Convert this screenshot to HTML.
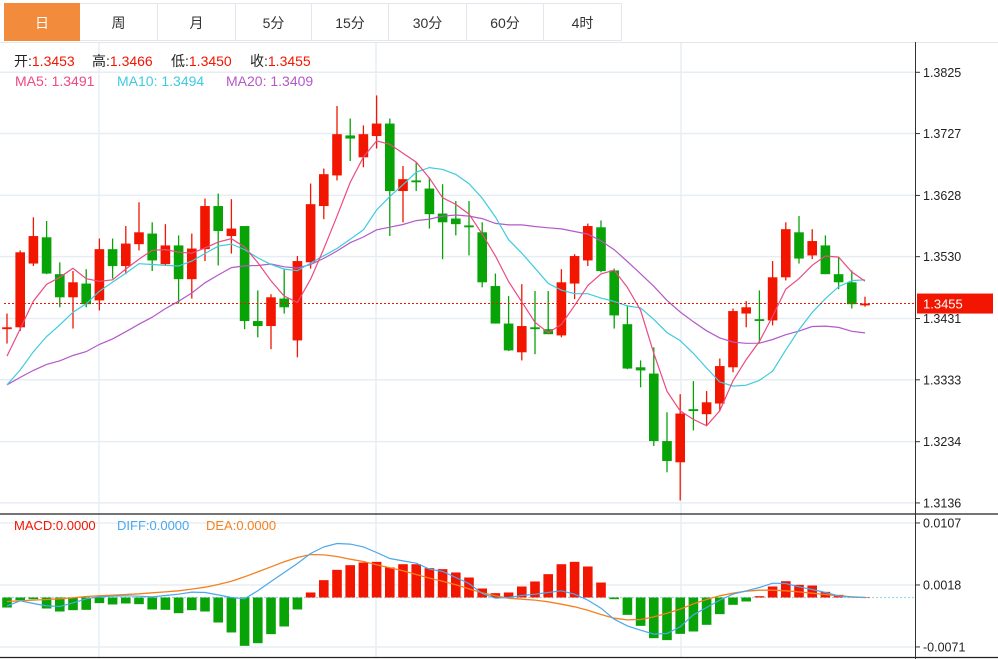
<!DOCTYPE html>
<html><head><meta charset="utf-8">
<style>
html,body{margin:0;padding:0;background:#fff;}
body{width:998px;height:659px;overflow:hidden;position:relative;font-family:"Liberation Sans","Noto Sans CJK SC",sans-serif;}
.tabs{position:absolute;left:4px;top:3px;height:39px;display:flex;}
.tab{height:38px;line-height:38px;text-align:center;font-size:14px;color:#333;border:1px solid #e3e6ea;border-left:none;box-sizing:border-box;}
.tab.first{border-left:1px solid #e3e6ea;}
.tab.on{background:#f28c3c;color:#fff;border-color:#f28c3c;}
svg{position:absolute;left:0;top:0;}
</style></head><body>
<div class="tabs">
<div class="tab first on" style="width:76px">日</div>
<div class="tab" style="width:78px">周</div>
<div class="tab" style="width:78px">月</div>
<div class="tab" style="width:76px">5分</div>
<div class="tab" style="width:77px">15分</div>
<div class="tab" style="width:78px">30分</div>
<div class="tab" style="width:77px">60分</div>
<div class="tab" style="width:78px">4时</div>
</div>
<svg id="chart" width="998" height="659"></svg>
<script>
// ---- data ----
const opens=[1.3414,1.3417,1.3519,1.3561,1.3502,1.3465,1.3487,1.3460,1.3542,1.3515,1.3550,1.3567,1.3518,1.3548,1.3494,1.3542,1.3611,1.3563,1.3579,1.3427,1.3419,1.3463,1.3396,1.3521,1.3611,1.3660,1.3724,1.3689,1.3723,1.3743,1.3635,1.3652,1.3639,1.3599,1.3591,1.3580,1.3569,1.3483,1.3423,1.3377,1.3417,1.3414,1.3404,1.3487,1.3524,1.3577,1.3508,1.3422,1.3353,1.3343,1.3235,1.3201,1.3286,1.3278,1.3295,1.3353,1.3439,1.3430,1.3428,1.3497,1.3569,1.3532,1.3548,1.3502,1.3489,1.3453];
const highs=[1.3439,1.3540,1.3593,1.3587,1.3521,1.3507,1.3510,1.3559,1.3559,1.3579,1.3617,1.3585,1.3582,1.3564,1.3567,1.3623,1.3631,1.3622,1.3579,1.3476,1.3470,1.3511,1.3531,1.3647,1.3671,1.3771,1.3751,1.3740,1.3788,1.3751,1.3675,1.3681,1.3657,1.3646,1.3619,1.3619,1.3585,1.3503,1.3467,1.3486,1.3475,1.3475,1.3510,1.3534,1.3583,1.3588,1.3511,1.3452,1.3364,1.3385,1.3281,1.3310,1.3331,1.3315,1.3367,1.3447,1.3459,1.3476,1.3523,1.3585,1.3595,1.3574,1.3564,1.3529,1.3508,1.3466];
const lows=[1.3391,1.3411,1.3515,1.3502,1.3449,1.3415,1.3449,1.3444,1.3495,1.3502,1.3540,1.3507,1.3515,1.3455,1.3463,1.3523,1.3516,1.3535,1.3414,1.3401,1.3382,1.3439,1.3369,1.3511,1.3590,1.3652,1.3683,1.3673,1.3703,1.3563,1.3585,1.3635,1.3575,1.3526,1.3564,1.3532,1.3481,1.3423,1.3379,1.3364,1.3374,1.3406,1.3401,1.3462,1.3515,1.3505,1.3415,1.3350,1.3321,1.3227,1.3185,1.3140,1.3252,1.3260,1.3283,1.3345,1.3417,1.3391,1.3420,1.3492,1.3519,1.3526,1.3502,1.3478,1.3447,1.3450];
const closes=[1.3417,1.3537,1.3563,1.3503,1.3465,1.3489,1.3454,1.3542,1.3515,1.3551,1.3569,1.3524,1.3548,1.3494,1.3543,1.3611,1.3571,1.3575,1.3427,1.3419,1.3465,1.3449,1.3523,1.3614,1.3662,1.3726,1.3719,1.3726,1.3743,1.3635,1.3654,1.3649,1.3598,1.3585,1.3582,1.3577,1.3489,1.3423,1.3380,1.3419,1.3414,1.3406,1.3489,1.3531,1.3579,1.3507,1.3436,1.3351,1.3348,1.3235,1.3203,1.3279,1.3283,1.3297,1.3355,1.3443,1.3449,1.3428,1.3497,1.3574,1.3527,1.3555,1.3502,1.3489,1.3454,1.3455];
// closes before the visible window (needed for moving averages)
const priorCloses=[1.3300,1.3340,1.3310,1.3350,1.3320,1.3330,1.3310,1.3340,1.3320,1.3330,1.3300,1.3270,1.3260,1.3280,1.3285,1.3320,1.3340,1.3370,1.3408];
// MACD values in units of 1e-4
const macdHist=[-14.4,-3.8,-2.4,-15.8,-20.1,-18.2,-17.7,-8.1,-10,-8.6,-9.6,-17.2,-17.7,-22.5,-18.2,-20.1,-35.9,-50.2,-69.4,-65.6,-52.6,-41.6,-17.2,7.2,24.9,39.7,46.4,50.2,51.2,43.1,47.8,47.8,42.1,40.7,35.9,28.7,12.9,6.2,7.2,15.8,23,33.5,47.8,51.2,44.5,21.5,-2.4,-24.9,-40.7,-58.4,-61.2,-52.2,-48.8,-39.2,-23.9,-10.5,-5.7,1.9,15.8,23.4,18.2,17.2,8.1,3.8,1,0];
const diffLine=[-12,-4.8,-8.6,-12,-12.9,-7.7,-1.9,1,1.9,2.4,1.9,1,2.9,4.8,7.7,7.2,3.8,0,-1.9,9.6,23,35.9,48.8,63.2,72.7,77.5,76.6,72.7,64.6,56,52.6,49.3,40.7,37.3,28.7,20.1,5.7,-1,0,2.9,4.8,7.2,9.6,4.8,-3.8,-15.3,-31.1,-40.7,-46.9,-52.6,-51.7,-42.1,-24.9,-14.4,-3.8,4.8,9.6,14.4,20.6,20.1,15.3,11.5,7.2,2.4,0.5,0];
const deaLine=[-5.7,-4.8,-3.8,-2.9,-1.9,-0.5,1.4,2.4,3.3,4.3,5.3,6.7,8.1,9.6,12,14.8,18.7,23.4,29.7,36.8,44,51.2,57.4,61.7,61.2,58.9,55,51.7,46.9,42.6,38.3,33,27.8,23.4,18.2,12.4,6.7,2.4,-1,-2.4,-3.8,-6.2,-9.6,-13.4,-18.2,-24.4,-29.7,-32.1,-31.6,-27.8,-22.5,-16.7,-9.1,-2.9,2.4,6.2,9.1,10.5,10.5,9.6,8.1,6.2,4.3,2.4,1,0];
const priceTicks=[1.3825,1.3727,1.3628,1.3530,1.3431,1.3333,1.3234,1.3136];
const priceTickLabels=["1.3825","1.3727","1.3628","1.3530","1.3431","1.3333","1.3234","1.3136"];
const macdTicks=[107,18,-71];
const macdTickLabels=["0.0107","0.0018","-0.0071"];
const lastPrice=1.3455;

// ---- axes ----
const RED="#f21500",GREEN="#07a307";
const xOf=i=>7+i*13.2;
const yP=v=>72.3+(1.3825-v)*6250;
const yM=v=>597.5-v*0.6966;
const svg=document.getElementById('chart');
const NS="http://www.w3.org/2000/svg";
function mk(tag,attrs,parent){const e=document.createElementNS(NS,tag);for(const k in attrs)e.setAttribute(k,attrs[k]);(parent||svg).appendChild(e);return e;}

// grids
const grid=mk('g',{});


priceTicks.forEach(t=>{mk('line',{x1:0,x2:915,y1:yP(t),y2:yP(t),stroke:"#e6edf3","stroke-width":1.5},grid);});
macdTicks.forEach(t=>{mk('line',{x1:0,x2:915,y1:yM(t),y2:yM(t),stroke:"#e6edf3","stroke-width":1.5},grid);});
[99,376,681].forEach(x=>{mk('line',{x1:x,x2:x,y1:42,y2:657,stroke:"#e6edf3","stroke-width":1.5},grid);});

// pane borders
mk('line',{x1:0,x2:998,y1:42.5,y2:42.5,stroke:"#e3e6ea"});
const sep=mk('line',{x1:0,x2:998,y1:514,y2:514,stroke:"#222","stroke-width":1.2});


mk('line',{x1:0,x2:998,y1:657.5,y2:657.5,stroke:"#222","stroke-width":1.2});
const ax=mk('line',{x1:915.5,x2:915.5,y1:42,y2:659,stroke:"#333","stroke-width":1});



// price tick labels
priceTicks.forEach((t,k)=>{
 mk('line',{x1:915,x2:920,y1:yP(t),y2:yP(t),stroke:"#333"});
 const tx=mk('text',{x:923,y:yP(t)+4.5,"font-size":"12.5",fill:"#222"});
 tx.textContent=priceTickLabels[k];
 
 
});
macdTicks.forEach((t,k)=>{
 mk('line',{x1:915,x2:920,y1:yM(t),y2:yM(t),stroke:"#333"});
 const tx=mk('text',{x:923,y:yM(t)+4.5,"font-size":"12.5",fill:"#222"});
 tx.textContent=macdTickLabels[k];
 
 
});

// candles
const cg=mk('g',{});


for(let i=0;i<opens.length;i++){
 const up=closes[i]>=opens[i];const col=up?RED:GREEN;const x=xOf(i);
 const g=mk('g',{},cg);
 
 
 mk('line',{x1:x,x2:x,y1:yP(highs[i]),y2:yP(lows[i]),stroke:col,"stroke-width":1.3},g);
 const top=yP(Math.max(opens[i],closes[i])),bot=yP(Math.min(opens[i],closes[i]));
 mk('rect',{x:x-4.8,y:top,width:9.6,height:Math.max(bot-top,1.8),fill:col},g);
}

// moving averages
const all=priorCloses.concat(closes);const P=priorCloses.length;
function ma(n){const out=[];for(let i=0;i<closes.length;i++){let s=0;for(let k=0;k<n;k++)s+=all[P+i-k];out.push(s/n);}return out;}
const ma5=ma(5),ma10=ma(10),ma20=ma(20);
function line(arr,yf,color,name,w){const p=arr.map((v,i)=>(i?'L':'M')+xOf(i).toFixed(1)+','+yf(v).toFixed(1)).join('');
 const e=mk('path',{d:p,fill:"none",stroke:color,"stroke-width":w||1.2});
 
 
 return e;}
line(ma20,yP,"#b459c9",'ma20-line');
line(ma10,yP,"#3ecbe0",'ma10-line');
line(ma5,yP,"#ec4a80",'ma5-line');

// current price line
const pl=mk('line',{x1:4,x2:915,y1:yP(lastPrice),y2:yP(lastPrice),stroke:RED,"stroke-width":1,"stroke-dasharray":"2,2"});


const pb=mk('rect',{x:917,y:yP(lastPrice)-10,width:76,height:20,fill:RED});


const pt=mk('text',{x:923,y:yP(lastPrice)+5,"font-size":"13",fill:"#fff"});
pt.textContent=lastPrice.toFixed(4);



// MACD
const zl=mk('line',{x1:4,x2:915,y1:yM(0),y2:yM(0),stroke:"#9fd8ee","stroke-width":1.2,"stroke-dasharray":"2,2"});


const hg=mk('g',{});


macdHist.forEach((v,i)=>{
 const y0=yM(0),y1=yM(v);
 const r=mk('rect',{x:xOf(i)-4.8,y:Math.min(y0,y1),width:9.6,height:Math.max(Math.abs(y1-y0),0.5),fill:v>=0?RED:GREEN},hg);
 
 
});
line(deaLine,yM,"#f5801f",'dea-line',1.3);
line(diffLine,yM,"#4aa8ee",'diff-line',1.2);

// headers
function txt(x,y,parts,name,size){const t=mk('text',{x:x,y:y,"font-size":size||14});
 
 
 parts.forEach(p=>{const s=mk('tspan',{fill:p[1]},t);s.textContent=p[0];});return t;}
txt(14,66,[["开:","#222"],["1.3453","#f21500"]],'open-label');
txt(92,66,[["高:","#222"],["1.3466","#f21500"]],'high-label');
txt(171,66,[["低:","#222"],["1.3450","#f21500"]],'low-label');
txt(250,66,[["收:","#222"],["1.3455","#f21500"]],'close-label');
txt(15,86,[["MA5: 1.3491","#ec4a80"]],'ma5-legend');
txt(117,86,[["MA10: 1.3494","#3ecbe0"]],'ma10-legend');
txt(226,86,[["MA20: 1.3409","#b459c9"]],'ma20-legend');
txt(14,530,[["MACD:0.0000","#f21500"]],'macd-legend',13);
txt(117,530,[["DIFF:0.0000","#4aa8ee"]],'diff-legend',13);
txt(206,530,[["DEA:0.0000","#f5801f"]],'dea-legend',13);
</script>
</body></html>
